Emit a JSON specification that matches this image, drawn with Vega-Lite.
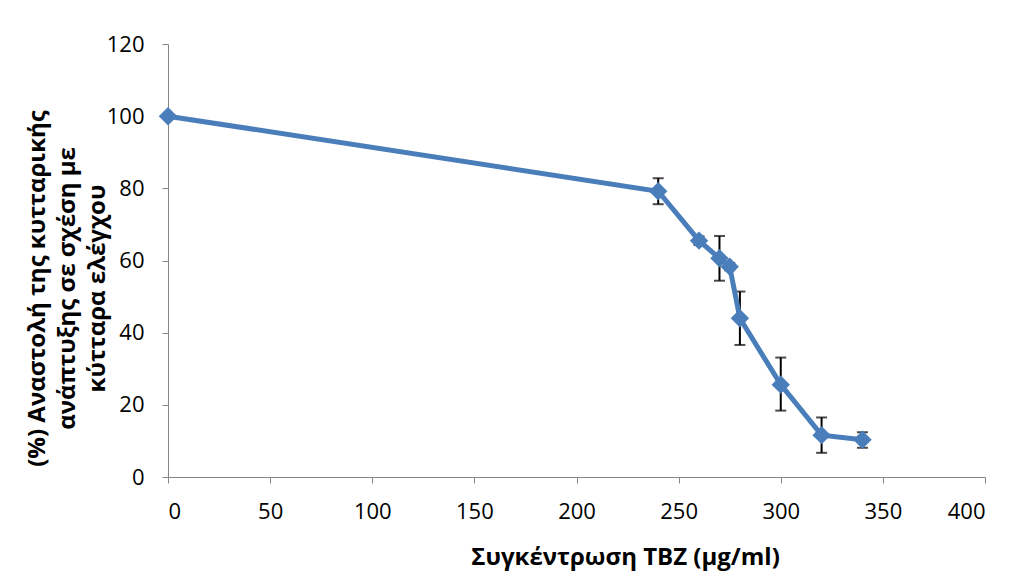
{
  "$schema": "https://vega.github.io/schema/vega-lite/v6.json",
  "width": 817,
  "height": 433,
  "autosize": {"type": "none"},
  "padding": {"left": 168, "top": 44, "right": 26, "bottom": 100},
  "background": "white",
  "config": {"view": {"stroke": null}, "font": "Open Sans"},
  "data": {
    "values": [
      {"conc": 0, "value": 100, "lo": 100, "hi": 100},
      {"conc": 240, "value": 79.2, "lo": 75.6, "hi": 82.8},
      {"conc": 260, "value": 65.5, "lo": 64.3, "hi": 66.7},
      {"conc": 270, "value": 60.6, "lo": 54.4, "hi": 66.8},
      {"conc": 275, "value": 58.3, "lo": 57.3, "hi": 59.3},
      {"conc": 280, "value": 44.0, "lo": 36.6, "hi": 51.4},
      {"conc": 300, "value": 25.6, "lo": 18.4, "hi": 33.1},
      {"conc": 320, "value": 11.6, "lo": 6.7, "hi": 16.5},
      {"conc": 340, "value": 10.3, "lo": 8.1, "hi": 12.4}
    ]
  },
  "encoding": {
    "x": {
      "field": "conc",
      "type": "quantitative",
      "scale": {"domain": [0, 400], "nice": false, "zero": false},
      "axis": {
        "values": [0, 50, 100, 150, 200, 250, 300, 350, 400],
        "grid": false,
        "domainColor": "#868686",
        "tickColor": "#868686",
        "tickSize": 6,
        "labelFontSize": 22,
        "labelColor": "#000000",
        "labelPadding": 18,
        "labelFont": "Open Sans",
        "title": "Συγκέντρωση TBZ (μg/ml)",
        "titleFont": "Open Sans",
        "titleFontSize": 24,
        "titleFontWeight": "bold",
        "titleColor": "#000000",
        "titleX": 457,
        "titleY": 80,
        "titleAlign": "center",
        "titleBaseline": "middle"
      }
    },
    "y": {
      "field": "value",
      "type": "quantitative",
      "scale": {"domain": [0, 120], "nice": false},
      "axis": {
        "values": [0, 20, 40, 60, 80, 100, 120],
        "grid": false,
        "domainColor": "#868686",
        "tickColor": "#868686",
        "tickSize": 6,
        "labelFontSize": 22,
        "labelColor": "#000000",
        "labelPadding": 18,
        "labelFont": "Open Sans",
        "title": ["(%)  Αναστολή της κυτταρικής", "ανάπτυξης σε σχέση με", "κύτταρα ελέγχου"],
        "titleFont": "Open Sans",
        "titleFontSize": 24,
        "titleFontWeight": "bold",
        "titleColor": "#000000",
        "titleLineHeight": 30,
        "titleAngle": -90,
        "titleX": -131,
        "titleY": 244,
        "titleAlign": "center",
        "titleBaseline": "middle"
      }
    }
  },
  "layer": [
    {
      "mark": {
        "type": "errorbar",
        "ticks": {"size": 11, "thickness": 2, "color": "#000000"},
        "rule": {"color": "#000000", "strokeWidth": 2}
      },
      "encoding": {
        "y": {"field": "lo", "type": "quantitative"},
        "y2": {"field": "hi"}
      }
    },
    {
      "mark": {"type": "line", "color": "#4a7ebb", "strokeWidth": 5}
    },
    {
      "mark": {"type": "point", "shape": "diamond", "filled": true, "color": "#4a7ebb", "size": 340, "opacity": 1}
    }
  ]
}
